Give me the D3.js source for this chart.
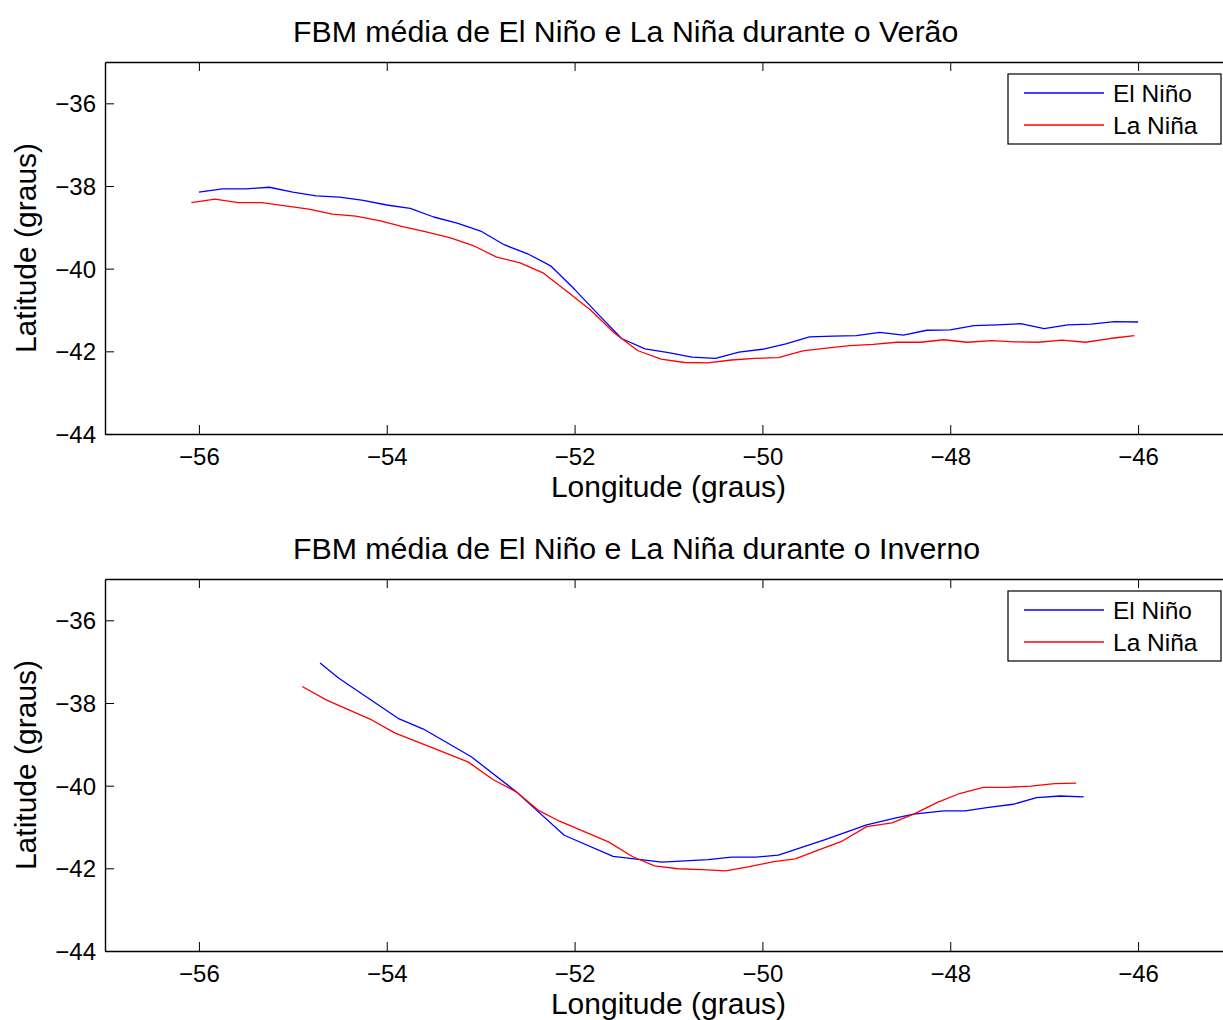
<!DOCTYPE html>
<html>
<head>
<meta charset="utf-8">
<script src="https://cdn.jsdelivr.net/npm/d3@7"></script>
<style>
  html, body { margin: 0; padding: 0; background: #fff; }
  svg { display: block; font-family: "Liberation Sans", Arial, Helvetica, sans-serif; }
</style>
</head>
<body>
<svg id="chart" width="1223" height="1020"></svg>
<script>
// Mean position of the front (FBM) for El Niño and La Niña years, summer and winter.

// Summer, El Niño
const verElNinoLon = [-56.00, -55.75, -55.50, -55.25, -55.00, -54.75, -54.50, -54.25, -54.00, -53.75,
  -53.50, -53.25, -53.00, -52.75, -52.50, -52.25, -52.00, -51.75, -51.50, -51.25,
  -51.00, -50.75, -50.50, -50.25, -50.00, -49.75, -49.50, -49.25, -49.00, -48.75,
  -48.50, -48.25, -48.00, -47.75, -47.50, -47.25, -47.00, -46.75, -46.50, -46.25, -46.00];
const verElNinoLat = [-38.15, -38.07, -38.07, -38.03, -38.15, -38.24, -38.27, -38.35, -38.46, -38.54,
  -38.75, -38.90, -39.09, -39.42, -39.64, -39.94, -40.50, -41.10, -41.69, -41.94,
  -42.03, -42.14, -42.17, -42.02, -41.95, -41.82, -41.65, -41.63, -41.62, -41.54,
  -41.61, -41.49, -41.48, -41.38, -41.36, -41.33, -41.45, -41.36, -41.34, -41.28, -41.29];

// Summer, La Niña
const verLaNinaLon = [-56.08, -55.83, -55.58, -55.33, -55.08, -54.83, -54.58, -54.33, -54.08, -53.83,
  -53.58, -53.33, -53.08, -52.83, -52.58, -52.33, -52.08, -51.83, -51.58, -51.33,
  -51.08, -50.83, -50.58, -50.33, -50.08, -49.83, -49.57, -49.32, -49.07, -48.82,
  -48.57, -48.32, -48.07, -47.82, -47.56, -47.31, -47.06, -46.81, -46.56, -46.30, -46.04];
const verLaNinaLat = [-38.40, -38.32, -38.40, -38.40, -38.48, -38.56, -38.68, -38.73, -38.84, -38.98,
  -39.11, -39.25, -39.44, -39.72, -39.86, -40.11, -40.55, -41.00, -41.55, -41.98,
  -42.19, -42.27, -42.28, -42.21, -42.17, -42.15, -41.99, -41.92, -41.86, -41.83,
  -41.78, -41.78, -41.72, -41.78, -41.74, -41.77, -41.78, -41.73, -41.78, -41.69, -41.62];

// Winter, El Niño
const invElNinoLon = [-54.71, -54.51, -53.88, -53.61, -53.10, -52.62, -52.11, -51.59, -51.07, -50.58,
  -50.33, -50.07, -49.83, -49.34, -48.89, -48.60, -48.39, -48.07, -47.84, -47.61,
  -47.33, -47.08, -46.83, -46.58];
const invElNinoLat = [-37.03, -37.40, -38.37, -38.63, -39.30, -40.15, -41.20, -41.71, -41.85, -41.79,
  -41.73, -41.73, -41.68, -41.31, -40.95, -40.79, -40.69, -40.61, -40.61, -40.53,
  -40.45, -40.29, -40.25, -40.27];

// Winter, La Niña
const invLaNinaLon = [-54.90, -54.64, -54.16, -53.91, -53.43, -53.13, -52.87, -52.62, -52.39, -52.16,
  -51.64, -51.38, -51.15, -50.90, -50.64, -50.39, -50.14, -49.88, -49.65, -49.42,
  -49.15, -48.89, -48.62, -48.39, -48.13, -47.90, -47.65, -47.40, -47.14, -46.89, -46.66];
const invLaNinaLat = [-37.60, -37.93, -38.41, -38.73, -39.16, -39.43, -39.85, -40.15, -40.59, -40.86,
  -41.36, -41.72, -41.94, -42.01, -42.03, -42.06, -41.96, -41.84, -41.77, -41.57,
  -41.34, -40.99, -40.90, -40.69, -40.40, -40.19, -40.04, -40.04, -40.01, -39.95, -39.94];

// Axes
const lonTicks = [-56, -54, -52, -50, -48, -46];
const latTicks = [-36, -38, -40, -42, -44];
const lonDomain = [-57, -45];
const latDomain = [-44, -35];

const seriesNames = ["El Niño", "La Niña"];
const seriesColors = ["#0000ff", "#ff0000"];

const panelTitles = [
  "FBM média de El Niño e La Niña durante o Verão",
  "FBM média de El Niño e La Niña durante o Inverno"
];
const xLabel = "Longitude (graus)";
const yLabel = "Latitude (graus)";

const panels = [
  { title: panelTitles[0], top: 62,
    series: [ { lon: verElNinoLon, lat: verElNinoLat }, { lon: verLaNinaLon, lat: verLaNinaLat } ] },
  { title: panelTitles[1], top: 579,
    series: [ { lon: invElNinoLon, lat: invElNinoLat }, { lon: invLaNinaLon, lat: invLaNinaLat } ] }
];

const svg = d3.select("#chart");
const left = 105, right = 1232, plotH = 372;
const tickLen = 9;
const fmt = d3.format("d"); // d3 renders negatives with U+2212

panels.forEach((p, pi) => {
  const top = p.top, bottom = top + plotH;
  const x = d3.scaleLinear().domain(lonDomain).range([left, right]);
  const y = d3.scaleLinear().domain(latDomain).range([bottom, top]);

  const g = svg.append("g");

  const clipId = "clip" + pi;
  svg.append("clipPath").attr("id", clipId)
    .append("rect").attr("x", left).attr("y", top).attr("width", right - left).attr("height", plotH);

  // data lines
  const line = d3.line().x(d => x(d[0])).y(d => y(d[1]));
  p.series.forEach((s, si) => {
    const pts = s.lon.map((v, i) => [v, s.lat[i]]);
    g.append("path")
      .attr("clip-path", `url(#${clipId})`)
      .attr("d", line(pts))
      .attr("fill", "none")
      .attr("stroke", seriesColors[si])
      .attr("stroke-width", 1.3)
      .attr("stroke-linejoin", "round");
  });

  // axes: ticks point inward on all four sides
  const axB = d3.axisBottom(x).tickValues(lonTicks).tickSizeInner(-tickLen).tickSizeOuter(0).tickPadding(14).tickFormat(fmt);
  const axT = d3.axisTop(x).tickValues(lonTicks).tickSizeInner(-tickLen).tickSizeOuter(0).tickFormat("");
  const axL = d3.axisLeft(y).tickValues(latTicks).tickSizeInner(-tickLen).tickSizeOuter(0).tickPadding(9).tickFormat(fmt);
  const axR = d3.axisRight(y).tickValues(latTicks).tickSizeInner(-tickLen).tickSizeOuter(0).tickFormat("");

  const styleAxis = sel => {
    sel.select(".domain").attr("stroke", "#000").attr("stroke-width", 1.4);
    sel.selectAll(".tick line").attr("stroke", "#000").attr("stroke-width", 1);
    sel.selectAll(".tick text").attr("fill", "#000").style("font-size", "24px")
      .style("font-family", '"Liberation Sans", Arial, Helvetica, sans-serif');
  };

  g.append("g").attr("transform", `translate(0,${bottom})`).call(axB).call(styleAxis)
    .selectAll(".tick text").attr("dy", "0.71em");
  g.append("g").attr("transform", `translate(0,${top})`).call(axT).call(styleAxis);
  g.append("g").attr("transform", `translate(${left},0)`).call(axL).call(styleAxis)
    .selectAll(".tick text").attr("dy", "0.36em");
  g.append("g").attr("transform", `translate(${right},0)`).call(axR).call(styleAxis);

  // title and axis labels
  g.append("text").attr("x", 293).attr("y", top - 20)
    .attr("font-size", 30.3).attr("fill", "#000").text(p.title);
  g.append("text").attr("x", (left + right) / 2).attr("y", bottom + 63)
    .attr("text-anchor", "middle").attr("font-size", 30).attr("fill", "#000").text(xLabel);
  g.append("text")
    .attr("transform", `translate(36,${top + plotH / 2}) rotate(-90)`)
    .attr("text-anchor", "middle").attr("font-size", 30).attr("fill", "#000").text(yLabel);

  // legend
  const lg = g.append("g").attr("transform", `translate(1008,${top + 12})`);
  lg.append("rect").attr("x", 0).attr("y", 0).attr("width", 213).attr("height", 70)
    .attr("fill", "#fff").attr("stroke", "#000").attr("stroke-width", 1.2);
  seriesNames.forEach((name, si) => {
    const ly = 19 + si * 32;
    lg.append("line").attr("x1", 16).attr("x2", 96).attr("y1", ly).attr("y2", ly)
      .attr("stroke", seriesColors[si]).attr("stroke-width", 1.3);
    lg.append("text").attr("x", 105).attr("y", ly + 8.5)
      .attr("font-size", 24.5).attr("fill", "#000").text(name);
  });
});
</script>
</body>
</html>
